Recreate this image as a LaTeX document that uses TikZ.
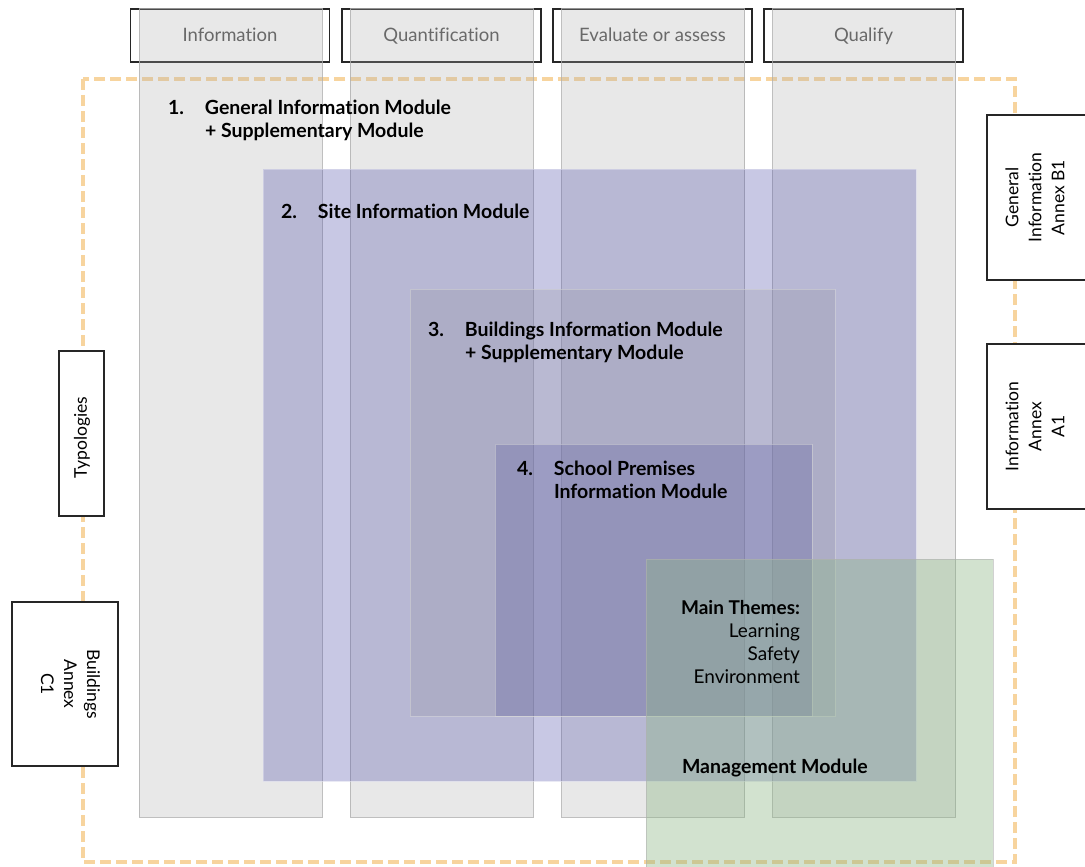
\documentclass[tikz,border=0pt]{standalone}
\usepackage{fontspec}
\setmainfont{Lato}[Ligatures=NoCommon]
\definecolor{dashor}{RGB}{247,212,158}
\definecolor{colfill}{RGB}{173,173,173}
\definecolor{colline}{RGB}{175,175,175}
\definecolor{sitefill}{RGB}{74,74,166}
\definecolor{bldfill}{RGB}{150,150,170}
\definecolor{schfill}{RGB}{90,90,160}
\definecolor{mgtfill}{RGB}{142,183,135}
\definecolor{headtext}{RGB}{105,105,105}
\newcommand{\numlab}[1]{\makebox[37pt][l]{#1}}
\newcommand{\numpad}{\hspace*{37pt}}
\begin{document}
\begin{tikzpicture}[x=1pt,y=-1pt,
  every node/.style={inner sep=0pt, outer sep=0pt},
  headbox/.style={draw=black!85, line width=1.1pt, fill=white, minimum width=199pt, minimum height=53pt},
  column/.style={draw=colline, line width=1pt, fill=colfill, fill opacity=0.28, draw opacity=0.8, minimum width=183pt, minimum height=808pt},
  sidebox/.style={draw=black!85, line width=1.1pt, fill=white},
  headlabel/.style={text=headtext, font=\fontsize{18.5}{22}\selectfont, anchor=base},
  modlabel/.style={font=\bfseries\fontsize{19.5}{22.5}\selectfont, align=left, anchor=base west},
  sidelabel/.style={font=\fontsize{17.5}{23}\selectfont, align=center}
]
\useasboundingbox (0,0) rectangle (1085,867);
% dashed frame
\draw[dashor, line width=4.5pt, dash pattern=on 11pt off 5pt] (83,79) rectangle (1015,862);
% header boxes
\node[headbox] (hinfo) at (230,35.5) {};
\node[headbox] (hquant) at (441.5,35.5) {};
\node[headbox] (heval) at (652.5,35.5) {};
\node[headbox] (hqual) at (863.5,35.5) {};
% columns
\node[column] (cinfo) at (230.5,413) {};
\node[column] (cquant) at (441.5,413) {};
\node[column] (ceval) at (653,413) {};
\node[column] (cqual) at (864,413) {};
% header labels
\node[headlabel] (tinfo) at (230,42) {Information};
\node[headlabel] (tquant) at (441.5,42) {Quantification};
\node[headlabel] (teval) at (652.5,42) {Evaluate or assess};
\node[headlabel] (tqual) at (863.5,42) {Qualify};
% modules
\node[draw=white!80!sitefill, line width=1pt, fill=sitefill, fill opacity=0.3, draw opacity=0.6, minimum width=653pt, minimum height=612pt] (site) at (589.5,475) {};
\node[draw=black!15, line width=1pt, fill=bldfill, fill opacity=0.3, draw opacity=0.5, minimum width=425pt, minimum height=427pt] (bld) at (622.5,502.5) {};
\node[draw=black!15, line width=1pt, fill=schfill, fill opacity=0.3, draw opacity=0.5, minimum width=317pt, minimum height=272pt] (sch) at (653.5,580) {};
\node[draw=black!30, line width=1pt, fill=mgtfill, fill opacity=0.4, draw opacity=0.6, minimum width=347pt, minimum height=313pt] (mgt) at (819.5,715.5) {};
% side boxes
\node[sidebox, minimum width=45pt, minimum height=165pt] (btyp) at (81.5,433.5) {};
\node[sidebox, minimum width=106pt, minimum height=164pt] (bc1) at (65,684) {};
\node[sidebox, minimum width=106pt, minimum height=165pt] (bb1) at (1040,197.5) {};
\node[sidebox, minimum width=106pt, minimum height=165pt] (ba1) at (1040,426.5) {};
\node[sidelabel, rotate=90] (ttyp) at (82,437.5) {Typologies};
\node[sidelabel, rotate=-90] (tc1) at (70.5,684) {Buildings\\Annex\\C1};
\node[sidelabel, rotate=90] (tb1) at (1035,197.5) {General\\Information\\Annex B1};
\node[sidelabel, rotate=90] (ta1) at (1035,426.5) {Information\\Annex\\A1};
% module labels (base anchor = last line baseline)
\node[modlabel] (m1) at (168,137) {\numlab{1.}General Information Module\\\numpad+ Supplementary Module};
\node[modlabel] (m2) at (281,218) {\numlab{2.}Site Information Module};
\node[modlabel] (m3) at (428,359) {\numlab{3.}Buildings Information Module\\\numpad+ Supplementary Module};
\node[modlabel] (m4) at (517,498) {\numlab{4.}School Premises\\\numpad Information Module};
\node[font=\fontsize{19}{23}\selectfont, align=right, anchor=base east] (themes) at (800,683) {\textbf{Main Themes:}\\Learning\\Safety\\Environment};
\node[modlabel] (mm) at (682,773) {Management Module};
\end{tikzpicture}
\end{document}
